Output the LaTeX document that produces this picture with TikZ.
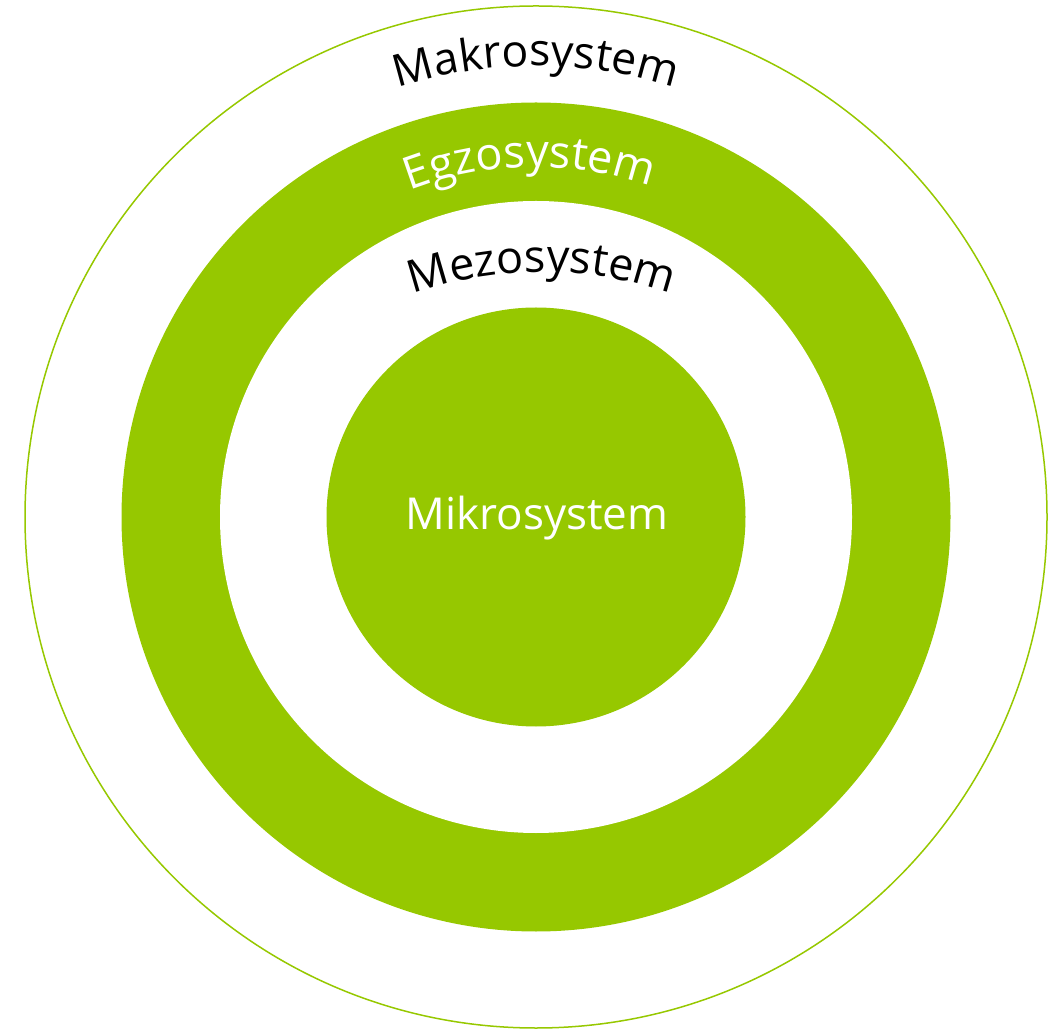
\documentclass[tikz,border=0pt]{standalone}
\usepackage{fontspec}
\setmainfont{Open Sans}
\usetikzlibrary{decorations.text,calc}
\definecolor{ringgreen}{RGB}{150,200,0}
\tikzset{
  ringline/.style={draw=ringgreen, line width=1.5pt},
  ringfill/.style={fill=ringgreen},
  whitefill/.style={fill=white},
  arctext/.style={decorate, decoration={text along path, text align=center, text={#1}}},
  centertext/.style={text=white, font=\fontsize{44}{52}\selectfont, anchor=base}
}
\begin{document}
\begin{tikzpicture}[x=1pt,y=1pt]
\useasboundingbox (0,0) rectangle (1060,1029);
\coordinate (C) at (536,512);
% outer thin circle
\draw[ringline] (C) circle[radius=511];
% green ring
\fill[ringfill] (C) circle[radius=414.5];
\fill[whitefill] (C) circle[radius=316];
% inner disk
\fill[ringfill] (C) circle[radius=209.5];
% centre label
\node[centertext] (mikro) at (537,499) {Mikrosystem};
% curved labels
\path[arctext={|\fontsize{44.5}{52}\selectfont\color{black}|Makrosystem}]
  ($(C)+(130:451)$) arc[start angle=130, end angle=50, radius=451];
\path[arctext={|\fontsize{45}{52}\selectfont\color{white}|Egzosystem}]
  ($(C)+(131:350)$) arc[start angle=131, end angle=51, radius=350];
\coordinate (Cm) at (542,367);
\path[arctext={|\fontsize{45}{52}\selectfont\color{black}|Mezosystem}]
  ($(Cm)+(130:390)$) arc[start angle=130, end angle=50, radius=390];
\end{tikzpicture}
\end{document}
